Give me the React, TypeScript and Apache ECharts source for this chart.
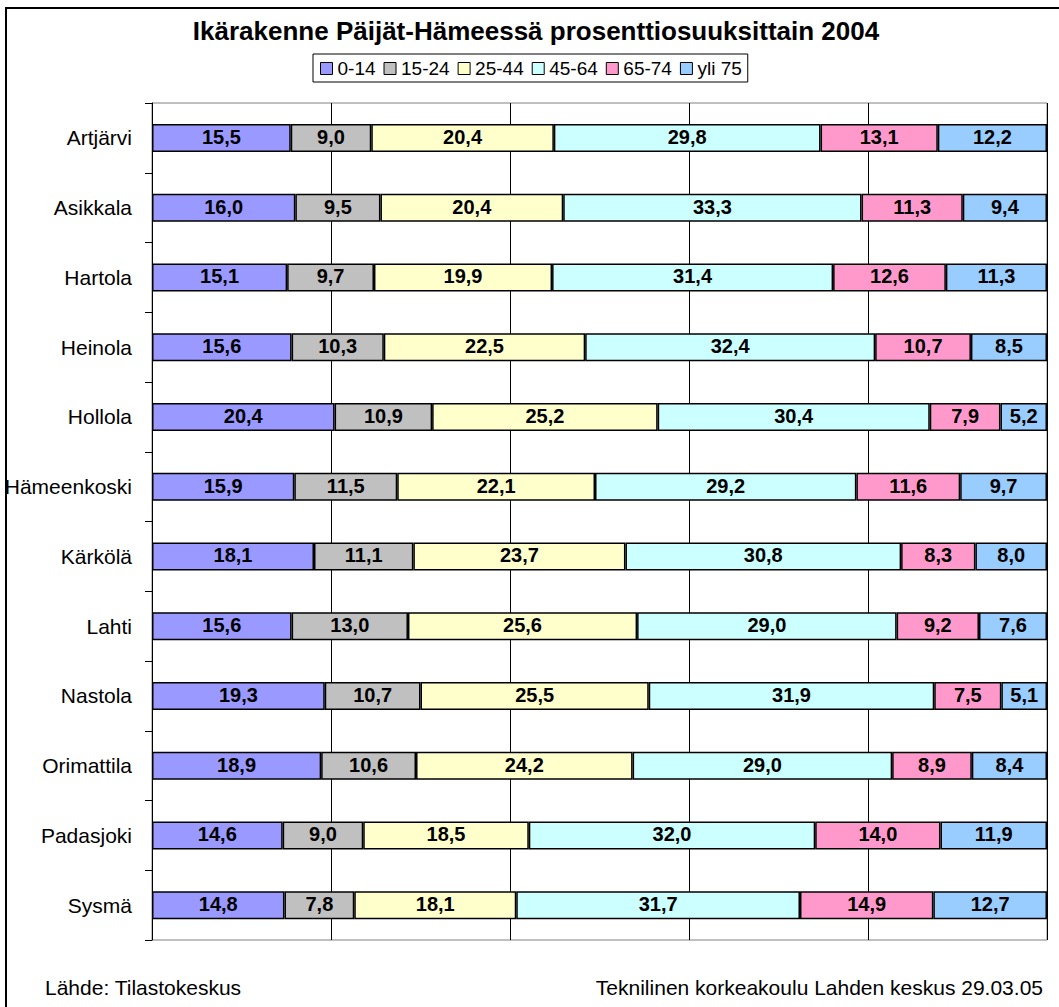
import React, { useEffect, useRef } from "react";
import * as echarts from "echarts";

const categories = [
  "Artjärvi", "Asikkala", "Hartola", "Heinola", "Hollola", "Hämeenkoski",
  "Kärkölä", "Lahti", "Nastola", "Orimattila", "Padasjoki", "Sysmä",
];
const seriesNames = ["0-14", "15-24", "25-44", "45-64", "65-74", "yli 75"];
const colors = ["#9999FF", "#C0C0C0", "#FFFFCC", "#CCFFFF", "#FF99CC", "#99CCFF"];

const age0_14 = [15.5, 16.0, 15.1, 15.6, 20.4, 15.9, 18.1, 15.6, 19.3, 18.9, 14.6, 14.8];
const age15_24 = [9.0, 9.5, 9.7, 10.3, 10.9, 11.5, 11.1, 13.0, 10.7, 10.6, 9.0, 7.8];
const age25_44 = [20.4, 20.4, 19.9, 22.5, 25.2, 22.1, 23.7, 25.6, 25.5, 24.2, 18.5, 18.1];
const age45_64 = [29.8, 33.3, 31.4, 32.4, 30.4, 29.2, 30.8, 29.0, 31.9, 29.0, 32.0, 31.7];
const age65_74 = [13.1, 11.3, 12.6, 10.7, 7.9, 11.6, 8.3, 9.2, 7.5, 8.9, 14.0, 14.9];
const age75plus = [12.2, 9.4, 11.3, 8.5, 5.2, 9.7, 8.0, 7.6, 5.1, 8.4, 11.9, 12.7];

const allSeries = [age0_14, age15_24, age25_44, age45_64, age65_74, age75plus];

const FONT = "'Liberation Sans', Arial, sans-serif";

export default function App() {
  const ref = useRef<HTMLDivElement>(null);
  useEffect(() => {
    document.body.style.margin = "0";
    const chart = echarts.init(ref.current!, null, { renderer: "svg" });
    const sums = categories.map((_, i) => allSeries.reduce((s, a) => s + a[i], 0));
    chart.setOption({
      animation: false,
      backgroundColor: "#ffffff",
      textStyle: { fontFamily: FONT },
      legend: {
        left: 313,
        top: 54,
        padding: [5, 6, 4, 7],
        borderColor: "#000",
        borderWidth: 1,
        itemWidth: 12,
        itemHeight: 12,
        itemGap: 8,
        icon: "rect",
        textStyle: { fontFamily: FONT, fontSize: 19, color: "#000" },
        data: seriesNames.map((n) => ({ name: n, itemStyle: { borderColor: "#000", borderWidth: 1 } })),
      },
      grid: {
        left: 152,
        right: 12,
        top: 103,
        bottom: 67,
        show: true,
        borderColor: "#808080",
        borderWidth: 1,
        backgroundColor: "#fff",
      },
      xAxis: {
        type: "value",
        min: 0,
        max: 100,
        interval: 20,
        axisLabel: { show: false },
        axisLine: { show: false },
        axisTick: { show: false },
        splitLine: { show: true, lineStyle: { color: "#000", width: 1 } },
      },
      yAxis: {
        type: "category",
        inverse: true,
        data: categories,
        axisLine: { show: true, lineStyle: { color: "#000", width: 1 } },
        axisTick: { show: true, length: 7, lineStyle: { color: "#000" } },
        axisLabel: { fontFamily: FONT, fontSize: 21, color: "#000", margin: 20 },
      },
      series: allSeries.map((arr, si) => ({
        name: seriesNames[si],
        type: "bar",
        stack: "total",
        barWidth: 28,
        itemStyle: { color: colors[si], borderColor: "#000", borderWidth: 1.5 },
        label: {
          show: true,
          position: "inside",
          fontFamily: FONT,
          fontSize: 20,
          fontWeight: "bold",
          color: "#000",
          offset: [0, -1],
          formatter: (p: any) => arr[p.dataIndex].toFixed(1).replace(".", ","),
        },
        data: arr.map((v, i) => (v / sums[i]) * 100),
      })),
      graphic: [
        {
          type: "rect",
          shape: { x: 6, y: 8, width: 2000, height: 2000 },
          style: { fill: "none", stroke: "#000", lineWidth: 2 },
          silent: true,
          z: 100,
        },
        {
          type: "text",
          x: 536,
          y: 31,
          style: {
            text: "Ikärakenne Päijät-Hämeessä prosenttiosuuksittain 2004",
            fontFamily: FONT,
            fontSize: 26,
            fontWeight: "bold",
            fill: "#000",
            textAlign: "center",
            textVerticalAlign: "middle",
          },
        },
        {
          type: "text",
          x: 45,
          y: 987,
          style: {
            text: "Lähde: Tilastokeskus",
            fontFamily: FONT,
            fontSize: 21,
            fill: "#000",
            textAlign: "left",
            textVerticalAlign: "middle",
          },
        },
        {
          type: "text",
          x: 1043,
          y: 987,
          style: {
            text: "Teknilinen korkeakoulu Lahden keskus 29.03.05",
            fontFamily: FONT,
            fontSize: 21,
            fill: "#000",
            textAlign: "right",
            textVerticalAlign: "middle",
          },
        },
      ],
    });
    return () => chart.dispose();
  }, []);
  return <div ref={ref} style={{ width: 1059, height: 1007 }} />;
}
